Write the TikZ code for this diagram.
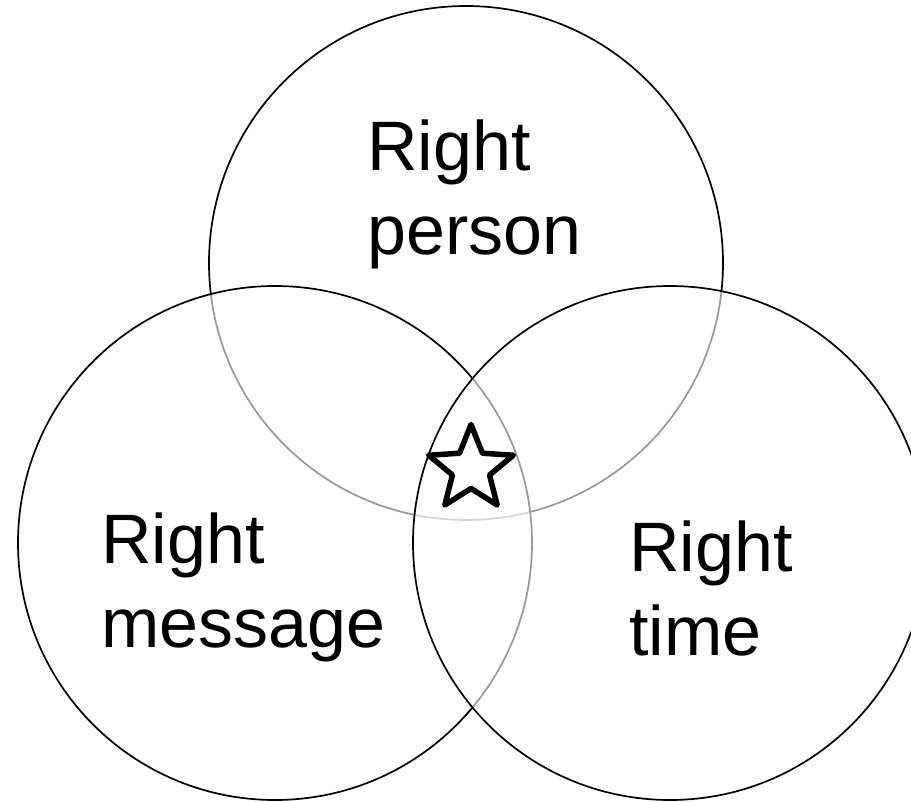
\documentclass[tikz,border=0pt]{standalone}
\usepackage{fontspec}
\setmainfont{Liberation Sans}
\usetikzlibrary{calc}
\begin{document}
\begin{tikzpicture}[x=1pt,y=-1pt,
  ring/.style={circle, draw=black, line width=1.7pt, fill=white, fill opacity=0.6, minimum size=514pt, inner sep=0pt},
  lbl/.style={font=\fontsize{70}{84}\selectfont, align=left, anchor=base west, inner sep=0pt, text=black},
  starline/.style={draw=black, fill=white, line width=5.5pt, line join=round}]
\useasboundingbox (0,0) rectangle (911,802);
\fill[white] (0,0) rectangle (911,802);
\node[ring, fill opacity=1] (top) at (466,263) {};
\node[ring] (left) at (275,543) {};
\node[ring] (right) at (670,543) {};
\coordinate (sc) at (471,469);
\draw[starline] ($(sc)+(-90:44.5)$) \foreach \k in {1,...,9} {
  -- ($(sc)+({-90+36*\k}:{ifthenelse(mod(\k,2)==1,19.5,44.5)})$)} -- cycle;
\node[lbl] (person) at (367,255) {Right\\person};
\node[lbl] (message) at (101,647) {Right\\message};
\node[lbl] (time) at (629,655) {Right\\time};
\end{tikzpicture}
\end{document}
